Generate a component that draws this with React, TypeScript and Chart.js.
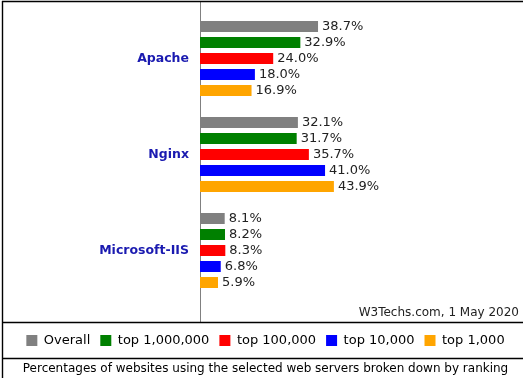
import React, { useEffect, useRef } from "react";
import { Chart, registerables } from "chart.js";

Chart.register(...registerables);

const categories = ["Apache", "Nginx", "Microsoft-IIS"];
const seriesNames = ["Overall", "top 1,000,000", "top 100,000", "top 10,000", "top 1,000"];
const overall = [38.7, 32.1, 8.1];
const top1m = [32.9, 31.7, 8.2];
const top100k = [24.0, 35.7, 8.3];
const top10k = [18.0, 41.0, 6.8];
const top1k = [16.9, 43.9, 5.9];
const seriesColors = ["#808080", "#008000", "#ff0000", "#0000ff", "#ffa500"];
const sourceNote = "W3Techs.com, 1 May 2020";
const caption = "Percentages of websites using the selected web servers broken down by ranking";

const FONT = "'DejaVu Sans', Verdana, sans-serif";

const framePlugin = {
  id: "frame",
  beforeDatasetsDraw(chart: any) {
    const ctx = chart.ctx;
    const x = chart.chartArea.left + 0.5;
    ctx.save();
    ctx.strokeStyle = "#808080";
    ctx.lineWidth = 1;
    ctx.beginPath();
    ctx.moveTo(x, 2);
    ctx.lineTo(x, 322);
    ctx.stroke();
    ctx.restore();
  },
  afterDraw(chart: any) {
    const ctx = chart.ctx;
    const w = chart.width;
    const h = chart.height;
    ctx.save();
    ctx.strokeStyle = "#000";
    ctx.lineWidth = 1.4;
    ctx.beginPath();
    ctx.moveTo(2, 1.5);
    ctx.lineTo(w, 1.5);
    ctx.moveTo(2.5, 1);
    ctx.lineTo(2.5, h);
    ctx.moveTo(2, 322.5);
    ctx.lineTo(w, 322.5);
    ctx.moveTo(2, 358.5);
    ctx.lineTo(w, 358.5);
    ctx.stroke();
    ctx.fillStyle = "#222";
    ctx.font = `12px ${FONT}`;
    ctx.textAlign = "right";
    ctx.textBaseline = "middle";
    ctx.fillText(sourceNote, 519, 313);
    ctx.restore();
  },
  afterDatasetsDraw(chart: any) {
    const ctx = chart.ctx;
    ctx.save();
    ctx.fillStyle = "#222";
    ctx.font = `13px ${FONT}`;
    ctx.textAlign = "left";
    ctx.textBaseline = "middle";
    chart.data.datasets.forEach((ds: any, di: number) => {
      const meta = chart.getDatasetMeta(di);
      meta.data.forEach((bar: any, i: number) => {
        const v = ds.data[i];
        ctx.fillText(v.toFixed(1) + "%", bar.x + 4, bar.y + 0.5);
      });
    });
    ctx.restore();
  },
};

export default function App() {
  const ref = useRef<HTMLCanvasElement>(null);

  useEffect(() => {
    if (!ref.current) return;
    const values = [overall, top1m, top100k, top10k, top1k];
    const chart = new Chart(ref.current, {
      type: "bar",
      data: {
        labels: categories,
        datasets: values.map((d, i) => ({
          label: seriesNames[i],
          data: d,
          backgroundColor: seriesColors[i],
          borderWidth: 0,
          categoryPercentage: 80 / 96,
          barPercentage: 11 / 16,
        })),
      },
      options: {
        indexAxis: "y",
        responsive: false,
        animation: false,
        devicePixelRatio: 1,
        layout: { padding: { top: 10.5, right: 0, bottom: 0, left: 8 } },
        scales: {
          x: { display: false, min: 0, max: 105.9 },
          y: {
            grid: { display: false, drawTicks: false },
            border: { display: false },
            ticks: {
              padding: 11,
              color: "#1a1ab0",
              font: { family: FONT, size: 12.5, weight: "bold" },
            },
            afterFit: (scale: any) => {
              scale.width = 192;
              scale.paddingTop = 0;
              scale.paddingBottom = 0;
            },
          },
        },
        plugins: {
          tooltip: { enabled: false },
          legend: {
            position: "bottom",
            title: {
              display: true,
              text: " ",
              font: { size: 10, lineHeight: 1 },
              padding: { top: 0, bottom: 15.5 },
            },
            labels: {
              boxWidth: 11,
              boxHeight: 11,
              padding: 10,
              color: "#000",
              font: { family: FONT, size: 13 },
            },
          },
          title: {
            display: true,
            position: "bottom",
            text: caption,
            color: "#000",
            font: { family: FONT, size: 12, lineHeight: 1.3, weight: "normal" },
            padding: { top: 4, bottom: 1.4 },
          },
        },
      },
      plugins: [framePlugin],
    } as any);
    return () => chart.destroy();
  }, []);

  return (
    <div style={{ position: "absolute", left: 0, top: 0, width: 523, height: 378, background: "#fff" }}>
      <canvas ref={ref} width={523} height={378} />
    </div>
  );
}
